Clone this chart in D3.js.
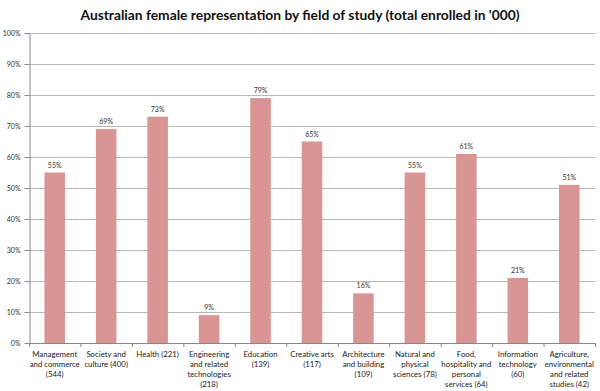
<!DOCTYPE html>
<html><head><meta charset="utf-8">
<script src="https://cdn.jsdelivr.net/npm/d3@7"></script>
<style>body{margin:0;background:#fff}svg{display:block;font-family:Lato,"Open Sans",sans-serif}</style>
</head><body><svg id="c" width="600" height="391"></svg>
<script>
const categories = [
  ["Management","and commerce","(544)"],
  ["Society and","culture (400)"],
  ["Health (221)"],
  ["Engineering","and related","technologies","(218)"],
  ["Education","(139)"],
  ["Creative arts","(117)"],
  ["Architecture","and building","(109)"],
  ["Natural and","physical","sciences (78)"],
  ["Food,","hospitality and","personal","services (64)"],
  ["Information","technology","(60)"],
  ["Agriculture,","environmental","and related","studies (42)"]
];
const values = [55, 69, 73, 9, 79, 65, 16, 55, 61, 21, 51];
const yTicks = [0,10,20,30,40,50,60,70,80,90,100];
const title = "Australian female representation by field of study (total enrolled in '000)";

const svg = d3.select("#c");
const L = 29, R = 595, T = 33, B = 343;
const x = d3.scaleBand().domain(d3.range(categories.length)).range([L, R]).paddingInner(0.6).paddingOuter(0.3);
const xb = d3.scaleBand().domain(d3.range(categories.length)).range([L, R]);
const y = d3.scaleLinear().domain([0, 100]).range([B, T]);

svg.append("text").attr("x", 300).attr("y", 20).attr("text-anchor", "middle")
  .attr("font-size", 13.8).attr("font-weight", "bold").attr("fill", "#111").text(title);

// gridlines
svg.append("g").selectAll("line").data(yTicks.filter(d => d > 0)).join("line")
  .attr("x1", L).attr("x2", R).attr("y1", d => y(d) + 0.5).attr("y2", d => y(d) + 0.5)
  .attr("stroke", "#b8b8b8").attr("stroke-width", 1);

// y axis
const ya = svg.append("g").attr("transform", `translate(${L + 0.5},0)`)
  .call(d3.axisLeft(y).tickValues(yTicks).tickFormat(d => d + "%").tickSize(5).tickSizeOuter(0));
ya.select(".domain").attr("stroke", "#888");
ya.selectAll(".tick line").attr("stroke", "#888");
ya.selectAll(".tick text").attr("font-size", 7).attr("fill", "#333").attr("x", -9).attr("font-family", "Lato,sans-serif");

// bars
svg.append("g").selectAll("rect").data(values).join("rect")
  .attr("x", (d, i) => x(i)).attr("width", x.bandwidth())
  .attr("y", d => y(d)).attr("height", d => B - y(d))
  .attr("fill", "#d99594");

// value labels
svg.append("g").selectAll("text").data(values).join("text")
  .attr("x", (d, i) => x(i) + x.bandwidth() / 2).attr("y", d => y(d) - 5)
  .attr("text-anchor", "middle").attr("font-size", 7).attr("fill", "#333").text(d => d + "%");

// x axis
svg.append("line").attr("x1", L).attr("x2", R).attr("y1", B + 0.5).attr("y2", B + 0.5).attr("stroke", "#888");
svg.append("g").selectAll("line").data(d3.range(categories.length + 1)).join("line")
  .attr("x1", i => (i < categories.length ? xb(i) : R) + 0.5).attr("x2", i => (i < categories.length ? xb(i) : R) + 0.5)
  .attr("y1", B).attr("y2", B + 4).attr("stroke", "#888");

// category labels
const cl = svg.append("g").selectAll("text").data(categories).join("text")
  .attr("text-anchor", "middle").attr("font-size", 7.8).attr("fill", "#222");
cl.each(function(lines, i) {
  const t = d3.select(this);
  lines.forEach((s, k) => t.append("tspan").attr("x", xb(i) + xb.bandwidth() / 2).attr("y", 357 + k * 10).text(s));
});
</script></body></html>
